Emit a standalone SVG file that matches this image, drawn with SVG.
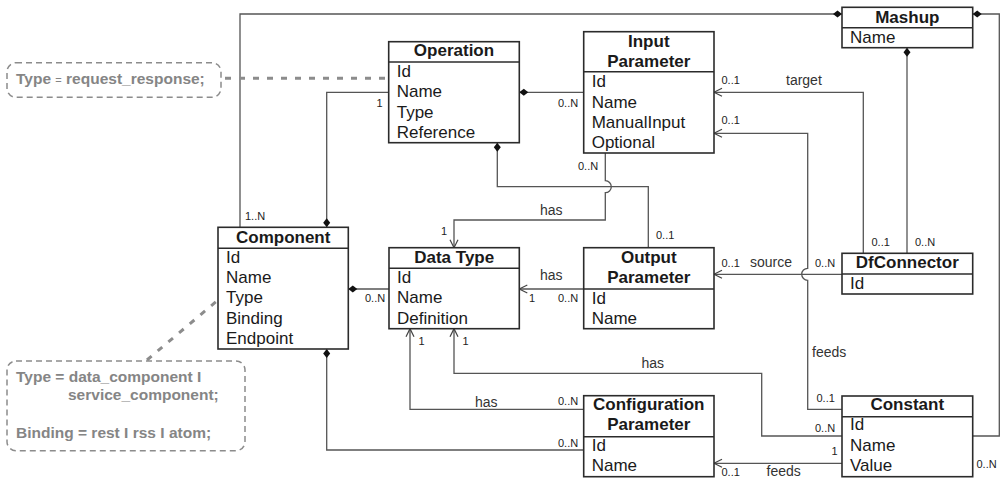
<svg xmlns="http://www.w3.org/2000/svg" width="1001" height="479" viewBox="0 0 1001 479">
<style>
.box{fill:#fff;stroke:#2b2b2b;stroke-width:1.6}
.sep{stroke:#2b2b2b;stroke-width:1.6}
.hd{font-family:"Liberation Sans",Arial,sans-serif;font-size:17px;font-weight:bold;fill:#1a1a1a;text-anchor:middle}
.at{font-family:"Liberation Sans",Arial,sans-serif;font-size:17px;fill:#1a1a1a}
.ln{fill:none;stroke:#555;stroke-width:1.3}
.m{font-family:"Liberation Sans",Arial,sans-serif;font-size:11px;fill:#222}
.r{font-family:"Liberation Sans",Arial,sans-serif;font-size:14px;fill:#333}
.note{fill:#fff;stroke:#8c8c8c;stroke-width:1.5;stroke-dasharray:6 4}
.nt{font-family:"Liberation Sans",Arial,sans-serif;font-size:15.5px;font-weight:bold;fill:#858585}
.dot{fill:none;stroke:#8c8c8c;stroke-width:3;stroke-dasharray:6 8}
</style>
<defs>
<marker id="dia" viewBox="-10 -5 20 10" markerWidth="20" markerHeight="10" markerUnits="userSpaceOnUse" orient="auto" refX="0" refY="0">
<path d="M0,0 L4.5,-3.5 L9,0 L4.5,3.5 Z" fill="#111"/>
</marker>
<marker id="arr" viewBox="-10 -6 20 12" markerWidth="20" markerHeight="12" markerUnits="userSpaceOnUse" orient="auto" refX="0" refY="0">
<path d="M-8,-4 L0,0 L-8,4" fill="none" stroke="#444" stroke-width="1.2"/>
</marker>
</defs>
<rect width="1001" height="479" fill="#fff"/>

<g id="connectors">
<path class="ln" d="M842,14 H240 V227.3" marker-start="url(#dia)"/>
<path class="ln" d="M972.7,14 H999.3 V436 H972.7" marker-start="url(#dia)"/>
<path class="ln" d="M907,47.7 V253.3" marker-start="url(#dia)"/>
<path class="ln" d="M863.3,253.3 V92.3 H714" marker-end="url(#arr)"/>
<path class="ln" d="M842,409.3 H807.7 V280.3 A6,6 0 0 1 807.7,268.3 V133.3 H714" marker-end="url(#arr)"/>
<path class="ln" d="M842,274.3 H714" marker-end="url(#arr)"/>
<path class="ln" d="M519.3,92.3 H583.7" marker-start="url(#dia)"/>
<path class="ln" d="M326.7,227.3 V92.3 H388.7" marker-start="url(#dia)"/>
<path class="ln" d="M497.3,142.7 V186.7 H648.3 V247.7" marker-start="url(#dia)"/>
<path class="ln" d="M605.3,153 V180.7 A6,6 0 0 1 605.3,192.7 V220 H454 V247.7" marker-end="url(#arr)"/>
<path class="ln" d="M348.3,289 H389" marker-start="url(#dia)"/>
<path class="ln" d="M583.7,289 H519.3" marker-end="url(#arr)"/>
<path class="ln" d="M842,436 H761.7 V373.3 H454 V328.7" marker-end="url(#arr)"/>
<path class="ln" d="M583.7,409.3 H410 V328.7" marker-end="url(#arr)"/>
<path class="ln" d="M326.7,349 V450 H583.7" marker-start="url(#dia)"/>
<path class="ln" d="M842,463.3 H714" marker-end="url(#arr)"/>
<path class="dot" d="M225,78.3 H388"/>
<path class="dot" d="M147,360 L218,300"/>
<text class="m" x="245" y="220">1..N</text>
<text class="m" x="376.5" y="106.5">1</text>
<text class="m" x="558" y="106.5">0..N</text>
<text class="m" x="578" y="170">0..N</text>
<text class="r" x="540" y="215">has</text>
<text class="m" x="441" y="235">1</text>
<text class="m" x="656" y="239">0..1</text>
<text class="r" x="540" y="280">has</text>
<text class="m" x="529" y="301.5">1</text>
<text class="m" x="558" y="301.5">0..N</text>
<text class="m" x="365" y="301.5">0..N</text>
<text class="m" x="418.5" y="345">1</text>
<text class="m" x="462.5" y="345">1</text>
<text class="r" x="641.5" y="368">has</text>
<text class="r" x="475" y="406.5">has</text>
<text class="m" x="558" y="405">0..N</text>
<text class="m" x="558" y="446.5">0..N</text>
<text class="m" x="721.5" y="83.5">0..1</text>
<text class="r" x="786" y="85">target</text>
<text class="m" x="721.5" y="123.5">0..1</text>
<text class="m" x="721.5" y="266.5">0..1</text>
<text class="r" x="750" y="266.5">source</text>
<text class="m" x="815" y="266.5">0..N</text>
<text class="m" x="871.5" y="246">0..1</text>
<text class="m" x="915" y="246">0..N</text>
<text class="r" x="812" y="356.5">feeds</text>
<text class="m" x="816.5" y="401.5">0..1</text>
<text class="m" x="815" y="431.5">0..N</text>
<text class="m" x="831.5" y="455">1</text>
<text class="m" x="721.5" y="475.5">0..1</text>
<text class="r" x="766.5" y="475.5">feeds</text>
<text class="m" x="976.5" y="468">0..N</text>
</g>

<g id="note-operation">
<rect class="note" x="7" y="62.7" width="214" height="34.6" rx="9"/>
<text class="nt" x="16" y="83.5">Type <tspan font-size="11" font-weight="normal">=</tspan> request_response;</text>
</g>

<g id="note-component">
<rect class="note" x="7" y="361" width="238" height="89.7" rx="9"/>
<text class="nt" x="16" y="382">Type = data_component I</text>
<text class="nt" x="68" y="400">service_component;</text>
<text class="nt" x="16" y="437.5">Binding = rest I rss I atom;</text>
</g>

<g id="operation">
<rect class="box" x="388.7" y="41.7" width="130.6" height="101"/>
<line class="sep" x1="388.7" y1="62" x2="519.3" y2="62"/>
<text class="hd" x="454" y="56">Operation</text>
<text class="at" x="396.7" y="77">Id</text>
<text class="at" x="396.7" y="97.3">Name</text>
<text class="at" x="396.7" y="117.5">Type</text>
<text class="at" x="396.7" y="137.7">Reference</text>
</g>

<g id="input-parameter">
<rect class="box" x="583.7" y="31.7" width="130.3" height="121.3"/>
<line class="sep" x1="583.7" y1="71.7" x2="714" y2="71.7"/>
<text class="hd" x="648.8" y="46.7">Input</text>
<text class="hd" x="648.8" y="66.7">Parameter</text>
<text class="at" x="591.7" y="87.3">Id</text>
<text class="at" x="591.7" y="107.5">Name</text>
<text class="at" x="591.7" y="127.7">ManualInput</text>
<text class="at" x="591.7" y="148">Optional</text>
</g>

<g id="mashup">
<rect class="box" x="842" y="7.3" width="130.7" height="40.4"/>
<line class="sep" x1="842" y1="27.7" x2="972.7" y2="27.7"/>
<text class="hd" x="907.3" y="22.7">Mashup</text>
<text class="at" x="850" y="42.7">Name</text>
</g>

<g id="component">
<rect class="box" x="218" y="227.3" width="130.3" height="121.7"/>
<line class="sep" x1="218" y1="248.3" x2="348.3" y2="248.3"/>
<text class="hd" x="283.2" y="242.7">Component</text>
<text class="at" x="226" y="262.7">Id</text>
<text class="at" x="226" y="283">Name</text>
<text class="at" x="226" y="303.3">Type</text>
<text class="at" x="226" y="323.5">Binding</text>
<text class="at" x="226" y="343.8">Endpoint</text>
</g>

<g id="data-type">
<rect class="box" x="389" y="247.7" width="130.3" height="81"/>
<line class="sep" x1="389" y1="268.3" x2="519.3" y2="268.3"/>
<text class="hd" x="454.2" y="262.7">Data Type</text>
<text class="at" x="397" y="283">Id</text>
<text class="at" x="397" y="303.3">Name</text>
<text class="at" x="397" y="323.5">Definition</text>
</g>

<g id="output-parameter">
<rect class="box" x="583.7" y="247.7" width="130.3" height="81"/>
<line class="sep" x1="583.7" y1="289" x2="714" y2="289"/>
<text class="hd" x="648.8" y="262.7">Output</text>
<text class="hd" x="648.8" y="283.3">Parameter</text>
<text class="at" x="591.7" y="303.5">Id</text>
<text class="at" x="591.7" y="323.7">Name</text>
</g>

<g id="dfconnector">
<rect class="box" x="842" y="253.3" width="130.7" height="40.7"/>
<line class="sep" x1="842" y1="274" x2="972.7" y2="274"/>
<text class="hd" x="907.3" y="268.3">DfConnector</text>
<text class="at" x="850" y="288.5">Id</text>
</g>

<g id="configuration-parameter">
<rect class="box" x="583.7" y="395.7" width="130.3" height="81"/>
<line class="sep" x1="583.7" y1="436.7" x2="714" y2="436.7"/>
<text class="hd" x="648.8" y="410">Configuration</text>
<text class="hd" x="648.8" y="430.3">Parameter</text>
<text class="at" x="591.7" y="450.5">Id</text>
<text class="at" x="591.7" y="470.7">Name</text>
</g>

<g id="constant">
<rect class="box" x="842" y="396" width="130.7" height="80.7"/>
<line class="sep" x1="842" y1="416.7" x2="972.7" y2="416.7"/>
<text class="hd" x="907.3" y="410">Constant</text>
<text class="at" x="850" y="430.3">Id</text>
<text class="at" x="850" y="450.5">Name</text>
<text class="at" x="850" y="470.7">Value</text>
</g>
</svg>
